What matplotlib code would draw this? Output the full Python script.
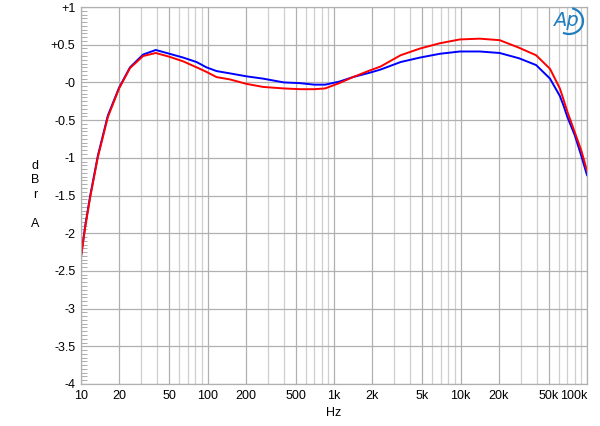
import matplotlib.pyplot as plt
import matplotlib.ticker as mticker
from matplotlib.patches import Arc
import numpy as np

plt.rcParams['font.family'] = ['Liberation Sans', 'DejaVu Sans']

# Frequency response (Hz, dBrA)
freq = [10, 10.8, 11.8, 13.6, 16.3, 20, 24.4, 31, 39, 50,
        64, 82, 98, 118, 150, 204, 275, 400, 540, 700,
        850, 1100, 1410, 1930, 2330, 3360, 4800, 6900, 9900, 14200,
        20400, 29000, 39600, 51000, 61000, 65000, 70000, 80000, 90000, 100000]
red = [-2.32, -1.92, -1.53, -0.99, -0.46, -0.08, 0.19, 0.35, 0.39, 0.34,
       0.28, 0.20, 0.14, 0.07, 0.04, -0.02, -0.06, -0.08, -0.09, -0.09,
       -0.08, -0.01, 0.07, 0.16, 0.21, 0.36, 0.45, 0.52, 0.57, 0.58,
       0.56, 0.46, 0.36, 0.18, -0.08, -0.22, -0.39, -0.66, -0.90, -1.17]
blue = [-2.30, -1.90, -1.51, -0.97, -0.44, -0.07, 0.20, 0.37, 0.43, 0.38,
        0.33, 0.27, 0.20, 0.15, 0.12, 0.08, 0.05, 0.00, -0.01, -0.03,
        -0.03, 0.01, 0.07, 0.13, 0.17, 0.27, 0.33, 0.38, 0.41, 0.41,
        0.39, 0.32, 0.23, 0.05, -0.18, -0.30, -0.46, -0.70, -0.97, -1.23]

xticks = [10, 20, 50, 100, 200, 500, 1000, 2000, 5000, 10000, 20000, 50000, 100000]
xlabels = ['10', '20', '50', '100', '200', '500', '1k', '2k', '5k', '10k', '20k', '50k', '100k']
yticks = [1, 0.5, 0, -0.5, -1, -1.5, -2, -2.5, -3, -3.5, -4]
ylabels = ['+1', '+0.5', '-0', '-0.5', '-1', '-1.5', '-2', '-2.5', '-3', '-3.5', '-4']

fig = plt.figure(figsize=(6, 4.26), dpi=100)
ax = fig.add_axes([81/600, 1-384/426, (587-81)/600, (384-7)/426])

ax.set_xscale('log')
ax.set_xlim(10, 100000)
ax.set_ylim(-4, 1)

# grid
ax.xaxis.set_minor_locator(mticker.LogLocator(base=10, subs=np.arange(2, 10)))
ax.xaxis.set_minor_formatter(mticker.NullFormatter())
ax.grid(which='major', axis='both', color='#b0b0b0', lw=0.9)
ax.grid(which='minor', axis='x', color='#cfcfcf', lw=0.9)
ax.set_axisbelow(True)

ax.plot(freq, blue, color='#0000ff', lw=1.4)
ax.plot(freq, red, color='#ff0000', lw=1.4)

ax.set_xticks(xticks)
ax.set_xticklabels(xlabels, fontsize=9)
ax.xaxis.get_majorticklabels()[-1].set_horizontalalignment('right')
ax.set_yticks(yticks)
ax.set_yticklabels(ylabels, fontsize=9)
ax.yaxis.set_minor_locator(mticker.MultipleLocator(0.05))
ax.tick_params(axis='x', which='both', length=0, pad=4)
ax.tick_params(axis='y', which='major', length=0, pad=4)
ax.tick_params(axis='y', which='minor', direction='in', length=4, color='#a0a0a0', width=0.6)

for s in ax.spines.values():
    s.set_color('#b0b0b0')
    s.set_linewidth(0.9)

fig.text(334/600, 1-413/426, 'Hz', fontsize=9, ha='center', va='center')
fig.text(35/600, 1-195/426, 'd\nB\nr\n\nA', fontsize=9, ha='center', va='center',
         linespacing=1.3)

# AP logo
fig.text(566/600, 1-21/426, 'Ap', fontsize=14, style='italic', color='#1f7fc0',
         ha='center', va='center', family='DejaVu Sans')
fig.patches.append(Arc((569/600, 1-21/426), 28/600, 26/426, theta1=-110, theta2=80,
                       color='#1f7fc0', lw=1.6, transform=fig.transFigure))

fig.savefig('out.png', dpi=100)
